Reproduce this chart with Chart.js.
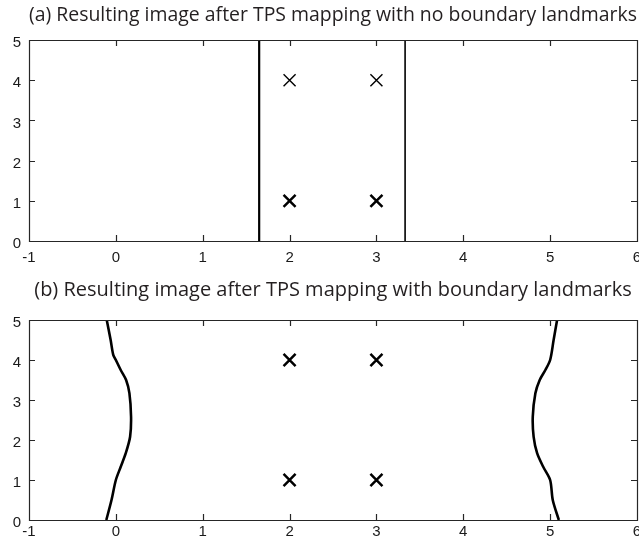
<!DOCTYPE html>
<html>
<head>
<meta charset="utf-8">
<script src="https://cdn.jsdelivr.net/npm/chart.js@4.4.0/dist/chart.umd.min.js"></script>
<style>
  html, body { margin: 0; padding: 0; background: #fff; overflow: hidden; }
  #wrap { position: relative; width: 639px; height: 548px; overflow: hidden; }
  canvas { position: absolute; left: 0; }
  #chartA { top: 0; }
  #chartB { top: 270px; }
</style>
</head>
<body>
<div id="wrap">
  <canvas id="chartA" width="660" height="270"></canvas>
  <canvas id="chartB" width="660" height="278"></canvas>
</div>
<script>
// axes
const xTicks = [-1, 0, 1, 2, 3, 4, 5, 6];
const yTicks = [0, 1, 2, 3, 4, 5];

// landmarks (same in both panels)
const landmarkX = [2, 3, 2, 3];
const landmarkY = [4, 4, 1, 1];

// (a) no boundary landmarks: image edges end up as two straight lines
const edgeAX = [1.65, 3.33];
const edgeAY = [0, 5];

// (b) with boundary landmarks: edges bend through the landmarks at x=0 and x=5
const leftEdgeX = [-0.11, -0.05, 0.0, 0.056, 0.114, 0.164, 0.175, 0.156, 0.118, 0.056, 0.0, -0.03, -0.06, -0.105];
const leftEdgeY = [0, 0.5, 1, 1.33, 1.67, 2.08, 2.58, 3.17, 3.5, 3.75, 4, 4.13, 4.5, 5];
const rightEdgeX = [5.10, 5.03, 5.0, 4.92, 4.85, 4.81, 4.80, 4.83, 4.88, 4.945, 5.0, 5.04, 5.08];
const rightEdgeY = [0, 0.5, 1, 1.33, 1.67, 2.08, 2.58, 3.17, 3.5, 3.75, 4, 4.5, 5];

const titleA = '(a) Resulting image after TPS mapping with no boundary landmarks';
const titleB = '(b) Resulting image after TPS mapping with boundary landmarks';

const pts = (xs, ys) => xs.map((x, i) => ({ x: x, y: ys[i] }));

// MATLAB style box with inward ticks
const frameTicks = {
  id: 'frameTicks',
  afterDatasetsDraw(chart) {
    const { ctx, chartArea: a, scales: { x, y } } = chart;
    ctx.save();
    ctx.strokeStyle = '#262626';
    ctx.lineWidth = 1.2;
    ctx.beginPath();
    x.ticks.forEach(t => {
      const px = Math.round(x.getPixelForValue(t.value)) + 0.5;
      ctx.moveTo(px, a.bottom); ctx.lineTo(px, a.bottom - 6);
      ctx.moveTo(px, a.top); ctx.lineTo(px, a.top + 6);
    });
    y.ticks.forEach(t => {
      const py = Math.round(y.getPixelForValue(t.value)) + 0.5;
      ctx.moveTo(a.left, py); ctx.lineTo(a.left + 6, py);
      ctx.moveTo(a.right, py); ctx.lineTo(a.right - 6, py);
    });
    ctx.rect(Math.round(a.left) + 0.5, Math.round(a.top) + 0.5, Math.round(a.width), Math.round(a.height));
    ctx.stroke();
    ctx.restore();
  }
};

function makeChart(id, datasets, title, t) {
  return new Chart(document.getElementById(id), {
    type: 'scatter',
    data: { datasets: datasets },
    plugins: [frameTicks],
    options: {
      responsive: false,
      animation: false,
      devicePixelRatio: 1,
      layout: { padding: { left: 0, right: 23, top: 0, bottom: 0 } },
      plugins: {
        legend: { display: false },
        tooltip: { enabled: false },
        title: {
          display: true,
          text: title,
          fullSize: false,
          color: '#231f20',
          font: { family: 'Open Sans', size: 20, weight: 'normal' },
          padding: { top: t.titleTop, bottom: t.titleBottom }
        }
      },
      scales: {
        x: {
          type: 'linear', min: -1, max: 6,
          afterBuildTicks: s => { s.ticks = xTicks.map(v => ({ value: v })); },
          afterFit: s => { s.height = t.xHeight; },
          grid: { display: false, drawTicks: false },
          border: { display: false },
          ticks: { color: '#1a1a1a', padding: t.xPad, font: { family: 'Liberation Sans', size: 15 } }
        },
        y: {
          type: 'linear', min: 0, max: 5,
          afterBuildTicks: s => { s.ticks = yTicks.map(v => ({ value: v })); },
          afterFit: s => { s.width = 29; },
          grid: { display: false, drawTicks: false },
          border: { display: false },
          ticks: { color: '#1a1a1a', padding: 8, labelOffset: 3, font: { family: 'Liberation Sans', size: 15 } }
        }
      }
    }
  });
}

const lineStyle = (w) => ({
  showLine: true, borderColor: '#000', borderWidth: w, pointRadius: 0, fill: false
});

const markers = (heavy) => ({
  data: pts(landmarkX, landmarkY),
  pointStyle: 'crossRot',
  pointRadius: 8.5,
  pointBorderColor: '#000',
  pointBorderWidth: ctx => (heavy || (ctx.raw && ctx.raw.y < 2)) ? 2.5 : 1.4,
  showLine: false
});

makeChart('chartA', [
  Object.assign({ data: pts([edgeAX[0], edgeAX[0]], edgeAY) }, lineStyle(2.2)),
  Object.assign({ data: pts([edgeAX[1], edgeAX[1]], edgeAY) }, lineStyle(1.6)),
  markers(false)
], titleA, { titleTop: 3.7, titleBottom: 12.3, xHeight: 29, xPad: 8 });

makeChart('chartB', [
  Object.assign({ data: pts(leftEdgeX, leftEdgeY), tension: 0.3 }, lineStyle(2.6)),
  Object.assign({ data: pts(rightEdgeX, rightEdgeY), tension: 0.3 }, lineStyle(2.6)),
  markers(true)
], titleB, { titleTop: 8.7, titleBottom: 17.3, xHeight: 28, xPad: 3 });
</script>
</body>
</html>
